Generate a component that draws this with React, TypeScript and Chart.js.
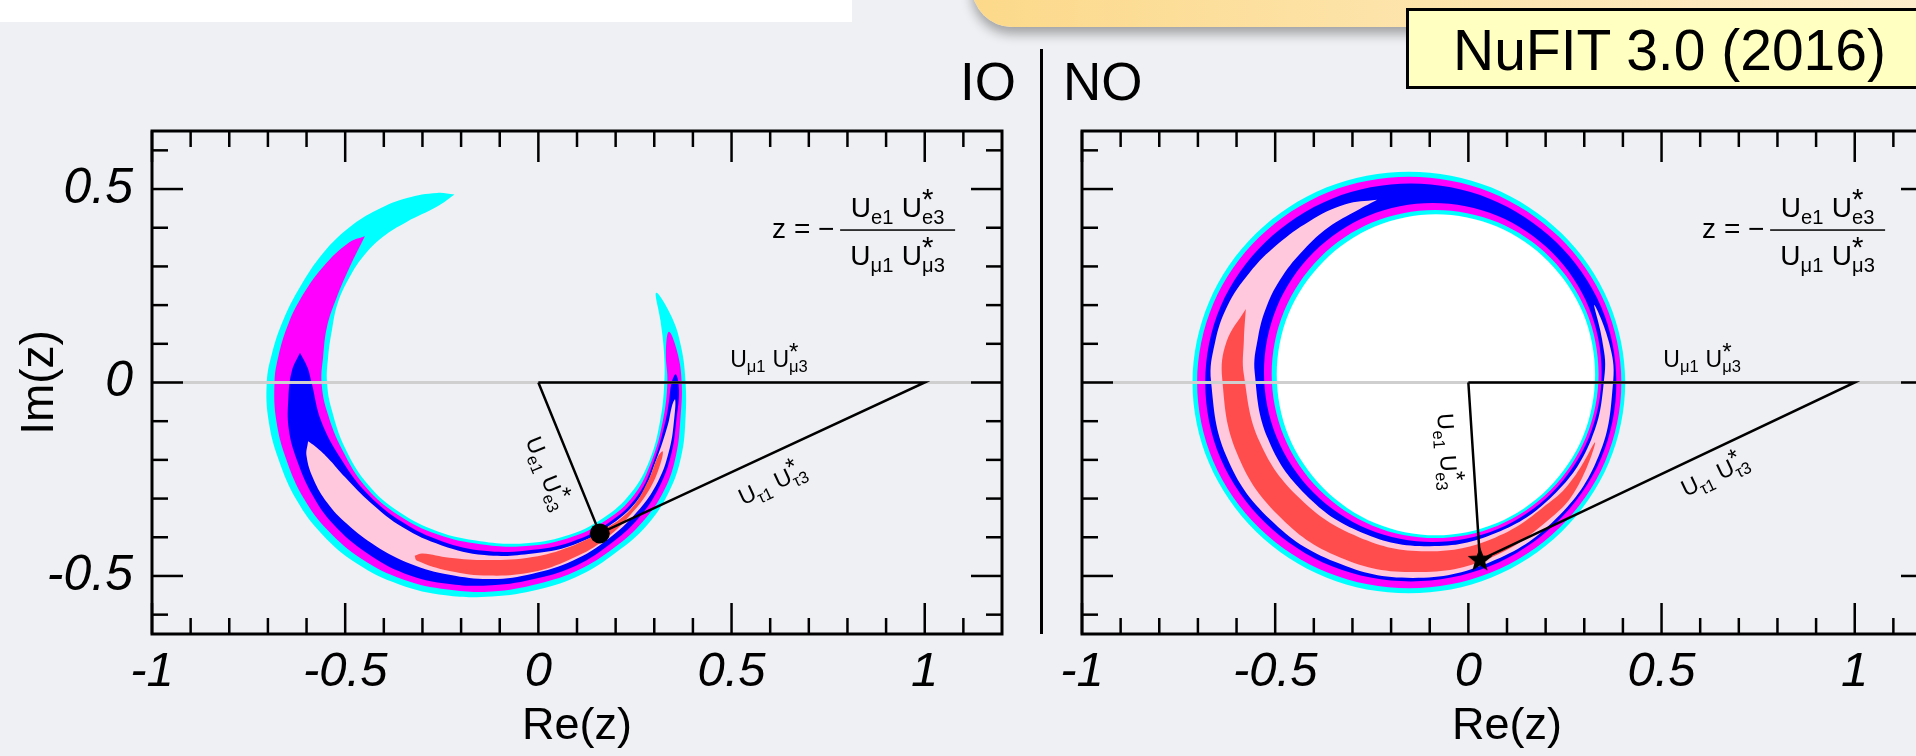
import React, { useEffect, useRef } from 'react';
import { Chart, registerables } from 'chart.js';

Chart.register(...registerables);

type P = [number, number];

const FONT = '"Liberation Sans", Arial, Helvetica, sans-serif';

// ---------- axes ----------
const X_RANGE: P = [-1, 1.2];
const Y_RANGE: P = [-0.65, 0.65];
const X_TICKS = [-1, -0.5, 0, 0.5, 1];
const X_TICK_LABELS = ['-1', '-0.5', '0', '0.5', '1'];
const Y_TICKS = [-0.5, 0, 0.5];
const Y_TICK_LABELS = ['-0.5', '0', '0.5'];
const X_MINOR = [-0.9, -0.8, -0.7, -0.6, -0.4, -0.3, -0.2, -0.1, 0.1, 0.2, 0.3, 0.4, 0.6, 0.7, 0.8, 0.9, 1.1];
const Y_MINOR = [-0.6, -0.4, -0.3, -0.2, -0.1, 0.1, 0.2, 0.3, 0.4, 0.6];

// ---------- triangle / reference lines ----------
const ZERO_LINE: P[] = [[-1, 0], [1.2, 0]];
const IO_BEST: P = [0.159, -0.39];
const NO_BEST: P = [0.03, -0.459];

// ---------- IO (inverted ordering) allowed regions ----------
const IO_CYAN: P[] = [
  [-0.217, 0.486], [-0.262, 0.49], [-0.34, 0.477], [-0.418, 0.446], [-0.488, 0.402], [-0.557, 0.335],
  [-0.617, 0.247], [-0.66, 0.162], [-0.689, 0.077], [-0.703, 0.0], [-0.698, -0.1], [-0.672, -0.2],
  [-0.625, -0.305], [-0.56, -0.392], [-0.47, -0.468], [-0.36, -0.522], [-0.24, -0.55], [-0.12, -0.553],
  [0.0, -0.535], [0.11, -0.497], [0.2, -0.44], [0.28, -0.37], [0.337, -0.285], [0.37, -0.19],
  [0.381, -0.09], [0.381, 0.0], [0.37, 0.09], [0.345, 0.17], [0.305, 0.232],
  [0.316, 0.16], [0.325, 0.08], [0.326, 0.0], [0.315, -0.1], [0.288, -0.2], [0.24, -0.285],
  [0.168, -0.35], [0.07, -0.397], [-0.04, -0.416], [-0.15, -0.41], [-0.26, -0.385], [-0.36, -0.335],
  [-0.44, -0.265], [-0.5, -0.17], [-0.535, -0.07], [-0.547, 0.0], [-0.544, 0.067], [-0.534, 0.137],
  [-0.519, 0.206], [-0.488, 0.273], [-0.454, 0.325], [-0.403, 0.376], [-0.341, 0.415], [-0.263, 0.454],
  [-0.217, 0.486],
];
const IO_MAGENTA: P[] = [
  [-0.449, 0.378], [-0.49, 0.362], [-0.557, 0.299], [-0.617, 0.214], [-0.65, 0.144], [-0.673, 0.067],
  [-0.683, 0.0], [-0.678, -0.1], [-0.652, -0.2], [-0.607, -0.3], [-0.545, -0.382], [-0.457, -0.456],
  [-0.35, -0.509], [-0.235, -0.535], [-0.12, -0.54], [0.0, -0.52], [0.105, -0.484], [0.195, -0.428],
  [0.27, -0.36], [0.325, -0.28], [0.356, -0.19], [0.368, -0.09], [0.371, 0.0], [0.36, 0.077], [0.338, 0.131],
  [0.33, 0.077], [0.334, 0.0], [0.322, -0.1], [0.294, -0.2], [0.248, -0.29], [0.175, -0.356],
  [0.075, -0.403], [-0.04, -0.423], [-0.15, -0.418], [-0.26, -0.393], [-0.362, -0.343], [-0.445, -0.272],
  [-0.507, -0.175], [-0.547, -0.075], [-0.561, 0.0], [-0.557, 0.067], [-0.547, 0.144], [-0.521, 0.222],
  [-0.488, 0.299], [-0.449, 0.378],
];
const IO_BLUE: P[] = [
  [-0.617, 0.077], [-0.638, 0.03], [-0.647, -0.04], [-0.646, -0.12], [-0.625, -0.2], [-0.585, -0.29],
  [-0.53, -0.367], [-0.445, -0.44], [-0.345, -0.494], [-0.235, -0.52], [-0.12, -0.524], [0.0, -0.505],
  [0.1, -0.472], [0.185, -0.418], [0.258, -0.352], [0.312, -0.272], [0.344, -0.185], [0.358, -0.09],
  [0.364, -0.02], [0.356, 0.021],
  [0.345, 0.0], [0.338, -0.05], [0.329, -0.1], [0.3, -0.2], [0.257, -0.292], [0.183, -0.362],
  [0.085, -0.412], [-0.03, -0.434], [-0.14, -0.435], [-0.25, -0.41], [-0.35, -0.362], [-0.44, -0.29],
  [-0.509, -0.2], [-0.562, -0.1], [-0.587, 0.0], [-0.598, 0.04], [-0.617, 0.077],
];
const IO_PINK: P[] = [
  [-0.596, -0.152], [-0.6, -0.19], [-0.582, -0.25], [-0.547, -0.31], [-0.495, -0.366], [-0.42, -0.423],
  [-0.33, -0.469], [-0.23, -0.497], [-0.12, -0.508], [-0.015, -0.494], [0.09, -0.46], [0.18, -0.405],
  [0.255, -0.335], [0.31, -0.255], [0.34, -0.17], [0.352, -0.09], [0.354, -0.044],
  [0.346, -0.06], [0.335, -0.11], [0.305, -0.2], [0.263, -0.295], [0.19, -0.366], [0.09, -0.42],
  [-0.025, -0.443], [-0.14, -0.446], [-0.25, -0.421], [-0.35, -0.375], [-0.435, -0.31], [-0.5, -0.245],
  [-0.545, -0.195], [-0.578, -0.165], [-0.596, -0.152],
];
const IO_RED: P[] = [
  [-0.32, -0.448], [-0.315, -0.46], [-0.23, -0.487], [-0.127, -0.499], [-0.015, -0.49], [0.08, -0.458],
  [0.165, -0.411], [0.24, -0.34], [0.29, -0.272], [0.316, -0.21], [0.322, -0.178],
  [0.31, -0.19], [0.286, -0.25], [0.24, -0.326], [0.165, -0.383], [0.08, -0.425], [-0.015, -0.451],
  [-0.127, -0.459], [-0.23, -0.453], [-0.3, -0.442], [-0.32, -0.448],
];

// ---------- NO (normal ordering) allowed regions ----------
const NO_CYAN_OUTER: P[] = [
  [0.406, 0], [0.363, 0.209], [0.242, 0.385], [0.06, 0.504], [-0.154, 0.545], [-0.368, 0.504],
  [-0.55, 0.385], [-0.671, 0.209], [-0.714, 0], [-0.671, -0.209], [-0.55, -0.385], [-0.368, -0.504],
  [-0.154, -0.545], [0.06, -0.504], [0.242, -0.385], [0.363, -0.209], [0.406, 0],
];
const NO_MAGENTA_OUTER: P[] = [
  [0.396, 0], [0.354, 0.204], [0.235, 0.376], [0.057, 0.492], [-0.153, 0.532], [-0.363, 0.492],
  [-0.541, 0.376], [-0.66, 0.204], [-0.702, 0], [-0.66, -0.204], [-0.541, -0.376], [-0.363, -0.492],
  [-0.153, -0.532], [0.057, -0.492], [0.235, -0.376], [0.354, -0.204], [0.396, 0],
];
const NO_BLUE_OUTER: P[] = [
  [0.383, 0], [0.343, 0.197], [0.227, 0.363], [0.055, 0.475], [-0.149, 0.514], [-0.353, 0.475],
  [-0.525, 0.363], [-0.641, 0.197], [-0.681, 0], [-0.641, -0.197], [-0.525, -0.363], [-0.353, -0.475],
  [-0.149, -0.514], [0.055, -0.475], [0.227, -0.363], [0.343, -0.197], [0.383, 0],
];
const NO_BLUE_INNER: P[] = [
  [0.345, 0.026], [0.312, 0.194], [0.217, 0.336], [0.075, 0.431], [-0.092, 0.464], [-0.259, 0.431],
  [-0.401, 0.336], [-0.496, 0.194], [-0.529, 0.026], [-0.496, -0.142], [-0.401, -0.284], [-0.259, -0.379],
  [-0.092, -0.412], [0.075, -0.379], [0.217, -0.284], [0.312, -0.142], [0.345, 0.026],
];
const NO_MAGENTA_INNER: P[] = [
  [0.337, 0.022], [0.305, 0.184], [0.213, 0.322], [0.076, 0.414], [-0.086, 0.446], [-0.248, 0.414],
  [-0.385, 0.322], [-0.477, 0.184], [-0.509, 0.022], [-0.477, -0.14], [-0.385, -0.278], [-0.248, -0.37],
  [-0.086, -0.402], [0.076, -0.37], [0.213, -0.278], [0.305, -0.14], [0.337, 0.022],
];
const NO_CYAN_INNER: P[] = [
  [0.328, 0.02], [0.297, 0.179], [0.207, 0.313], [0.074, 0.403], [-0.084, 0.435], [-0.242, 0.403],
  [-0.375, 0.313], [-0.465, 0.179], [-0.496, 0.02], [-0.465, -0.139], [-0.375, -0.273], [-0.242, -0.363],
  [-0.084, -0.395], [0.074, -0.363], [0.207, -0.273], [0.297, -0.139], [0.328, 0.02],
];
const NO_PINK: P[] = [
  [-0.236, 0.472], [-0.32, 0.46], [-0.411, 0.417], [-0.494, 0.357], [-0.567, 0.283], [-0.624, 0.197],
  [-0.656, 0.102], [-0.666, 0.003], [-0.626, -0.191], [-0.513, -0.354], [-0.344, -0.464], [-0.144, -0.505],
  [0.057, -0.464], [0.226, -0.353], [0.338, -0.188], [0.375, 0.006], [0.364, 0.104], [0.326, 0.2],
  [0.346, 0.112], [0.353, 0.025], [0.318, -0.147], [0.219, -0.292], [0.071, -0.389], [-0.102, -0.423],
  [-0.275, -0.388], [-0.421, -0.29], [-0.519, -0.145], [-0.553, 0.026], [-0.545, 0.113], [-0.522, 0.197],
  [-0.481, 0.275], [-0.426, 0.343], [-0.362, 0.401], [-0.287, 0.445], [-0.236, 0.472],
];
const NO_RED: P[] = [
  [-0.576, 0.19], [-0.626, 0.105], [-0.637, 0.009], [-0.6, -0.18], [-0.494, -0.341], [-0.332, -0.452],
  [-0.136, -0.49], [0.059, -0.452], [0.224, -0.341], [0.286, -0.263], [0.328, -0.155],
  [0.279, -0.237], [0.22, -0.302], [0.069, -0.401], [-0.109, -0.436], [-0.285, -0.399], [-0.436, -0.3],
  [-0.54, -0.154], [-0.581, 0.02], [-0.581, 0.11], [-0.576, 0.19],
];

const COLORS: Record<string, string> = {
  cyan: '#00ffff',
  magenta: '#ff00ff',
  blue: '#0000ff',
  pink: '#ffc8dc',
  red: '#ff4d4d',
  white: '#ffffff',
};

// [points, colour, is a closed smooth ring boundary]
type Layer = [P[], string, boolean];

interface PanelDef {
  layers: Layer[];
  best: P;
  marker: 'dot' | 'star';
  yLabels: boolean;
  muT: number;
  eT: number;
  eOff: number;
  tauT: number;
  tauOff: number;
}

const IO_PANEL: PanelDef = {
  layers: [
    [IO_CYAN, 'cyan', false], [IO_MAGENTA, 'magenta', false], [IO_BLUE, 'blue', false],
    [IO_PINK, 'pink', false], [IO_RED, 'red', false],
  ],
  best: IO_BEST,
  marker: 'dot',
  yLabels: true,
  muT: 0.597,
  eT: 0.535,
  eOff: -34,
  tauT: 0.495,
  tauOff: -35,
};

const NO_PANEL: PanelDef = {
  layers: [
    [NO_CYAN_OUTER, 'cyan', true], [NO_MAGENTA_OUTER, 'magenta', true], [NO_BLUE_OUTER, 'blue', true],
    [NO_BLUE_INNER, 'magenta', true], [NO_MAGENTA_INNER, 'cyan', true], [NO_CYAN_INNER, 'white', true],
    [NO_PINK, 'pink', false], [NO_RED, 'red', false],
  ],
  best: NO_BEST,
  marker: 'star',
  yLabels: false,
  muT: 0.605,
  eT: 0.38,
  eOff: -33,
  tauT: 0.6,
  tauOff: -31,
};

function makeStar(r: number): HTMLCanvasElement {
  const c = document.createElement('canvas');
  const s = Math.ceil(r * 2 + 2);
  c.width = s;
  c.height = s;
  const g = c.getContext('2d')!;
  g.translate(s / 2, s / 2);
  g.beginPath();
  for (let i = 0; i < 10; i++) {
    const rr = i % 2 === 0 ? r : r * 0.42;
    const a = -Math.PI / 2 + (i * Math.PI) / 5;
    g.lineTo(rr * Math.cos(a), rr * Math.sin(a));
  }
  g.closePath();
  g.fillStyle = '#000';
  g.fill();
  return c;
}

function drawProduct(ctx: CanvasRenderingContext2D, x: number, y: number, ang: number, F: number, s1: string, s2: string) {
  const fs = F * 0.72;
  const fMain = `${F}px ${FONT}`;
  const fSub = `${fs}px ${FONT}`;
  const fStar = `${F * 1.05}px ${FONT}`;
  ctx.save();
  ctx.translate(x, y);
  ctx.rotate(ang);
  ctx.fillStyle = '#000';
  ctx.textAlign = 'left';
  ctx.textBaseline = 'alphabetic';
  ctx.font = fMain;
  const wU = ctx.measureText('U').width;
  ctx.font = fSub;
  const w1 = ctx.measureText(s1).width;
  const w2 = ctx.measureText(s2).width;
  ctx.font = fStar;
  const wS = ctx.measureText('*').width;
  const gap = F * 0.3;
  const total = wU + w1 + gap + wU + Math.max(w2, wS);
  let cx = -total / 2;
  ctx.font = fMain;
  ctx.fillText('U', cx, 0);
  cx += wU;
  ctx.font = fSub;
  ctx.fillText(s1, cx, F * 0.25);
  cx += w1 + gap;
  ctx.font = fMain;
  ctx.fillText('U', cx, 0);
  cx += wU;
  ctx.font = fStar;
  ctx.fillText('*', cx, -F * 0.3);
  ctx.font = fSub;
  ctx.fillText(s2, cx, F * 0.25);
  ctx.restore();
}

function overlay(panel: PanelDef) {
  return {
    id: 'overlay',
    afterDatasetsDraw(chart: any) {
      const ctx: CanvasRenderingContext2D = chart.ctx;
      const a = chart.chartArea;
      const sx = chart.scales.x;
      const sy = chart.scales.y;
      const px = (v: number) => sx.getPixelForValue(v);
      const py = (v: number) => sy.getPixelForValue(v);
      ctx.save();
      ctx.strokeStyle = '#000';
      ctx.lineCap = 'butt';
      const seg = (x1: number, y1: number, x2: number, y2: number) => {
        ctx.beginPath();
        ctx.moveTo(x1, y1);
        ctx.lineTo(x2, y2);
        ctx.stroke();
      };
      ctx.lineWidth = 2.5;
      const xt = (v: number, len: number) => {
        const X = px(v);
        seg(X, a.bottom, X, a.bottom - len);
        seg(X, a.top, X, a.top + len);
      };
      const yt = (v: number, len: number) => {
        const Y = py(v);
        seg(a.left, Y, a.left + len, Y);
        seg(a.right, Y, a.right - len, Y);
      };
      X_TICKS.forEach((v) => xt(v, 31));
      X_MINOR.forEach((v) => xt(v, 16));
      Y_TICKS.forEach((v) => yt(v, 31));
      Y_MINOR.forEach((v) => yt(v, 16));
      ctx.lineWidth = 3;
      ctx.strokeRect(a.left, a.top, a.right - a.left, a.bottom - a.top);

      // formula
      const fx = px(0.605);
      const fy = py(0.394);
      ctx.fillStyle = '#000';
      ctx.font = `28px ${FONT}`;
      ctx.textAlign = 'left';
      ctx.textBaseline = 'alphabetic';
      ctx.fillText('z = \u2212', fx, fy + 8);
      const barL = fx + 68;
      const barR = fx + 183;
      ctx.fillRect(barL, fy - 0.75, barR - barL, 1.5);
      drawProduct(ctx, (barL + barR) / 2, fy - 13, 0, 28, 'e1', 'e3');
      drawProduct(ctx, (barL + barR) / 2, fy + 35, 0, 28, '\u03bc1', '\u03bc3');

      // triangle side labels
      const o = { x: px(0), y: py(0) };
      const one = { x: px(1), y: py(0) };
      const b = { x: px(panel.best[0]), y: py(panel.best[1]) };
      const along = (p0: any, p1: any, t: number, off: number, s1: string, s2: string) => {
        const ang = Math.atan2(p1.y - p0.y, p1.x - p0.x);
        const bx = p0.x + t * (p1.x - p0.x);
        const by = p0.y + t * (p1.y - p0.y);
        drawProduct(ctx, bx + off * Math.sin(ang), by - off * Math.cos(ang), ang, 23, s1, s2);
      };
      along(o, one, panel.muT, 16, '\u03bc1', '\u03bc3');
      along(o, b, panel.eT, panel.eOff, 'e1', 'e3');
      along(b, one, panel.tauT, panel.tauOff, '\u03c41', '\u03c43');
      ctx.restore();
    },
  };
}

function buildConfig(panel: PanelDef, pad: { left: number; right: number }) {
  const region = (pts: P[], color: string, ring: boolean) => {
    // a closed ring re-visits its first two points so the smooth curve has no seam
    const path = ring ? [...pts, pts[1], pts[2]] : pts;
    return {
      data: path.map(([x, y]) => ({ x, y })),
      showLine: true,
      fill: 'shape',
      backgroundColor: COLORS[color],
      borderColor: 'rgba(0,0,0,0)',
      borderWidth: 0,
      pointRadius: 0,
      pointHoverRadius: 0,
      tension: ring ? 0.34 : 0.4,
    };
  };
  const paint: any[] = panel.layers.map(([pts, c, ring]) => region(pts, c, ring));
  paint.push({
    data: ZERO_LINE.map(([x, y]) => ({ x, y })),
    showLine: true,
    fill: false,
    borderColor: '#cfcfcf',
    borderWidth: 3,
    pointRadius: 0,
    tension: 0,
  });
  const tri: P[] = [[0, 0], [1, 0], panel.best, [0, 0]];
  paint.push({
    data: tri.map(([x, y]) => ({ x, y })),
    showLine: true,
    fill: false,
    borderColor: '#000',
    borderWidth: 2.5,
    borderJoinStyle: 'miter',
    pointRadius: 0,
    tension: 0,
  });
  paint.push({
    data: [{ x: panel.best[0], y: panel.best[1] }],
    showLine: false,
    pointRadius: 10,
    pointStyle: panel.marker === 'star' ? makeStar(13) : 'circle',
    pointBackgroundColor: '#000',
    pointBorderColor: '#000',
    pointBorderWidth: 0,
  });
  const datasets = paint.slice().reverse();

  return {
    type: 'scatter',
    data: { datasets },
    plugins: [overlay(panel)],
    options: {
      animation: false,
      responsive: false,
      maintainAspectRatio: false,
      events: [],
      layout: { padding: { top: 131, left: pad.left, right: pad.right, bottom: 0 } },
      plugins: { legend: { display: false }, tooltip: { enabled: false } },
      scales: {
        x: {
          type: 'linear',
          position: 'bottom',
          min: X_RANGE[0],
          max: X_RANGE[1],
          grid: { display: false, drawTicks: false },
          border: { display: false },
          afterBuildTicks: (s: any) => {
            s.ticks = X_TICKS.map((v) => ({ value: v }));
          },
          afterFit: (s: any) => {
            s.height = 122;
          },
          ticks: {
            callback: (_v: any, i: number) => X_TICK_LABELS[i],
            color: '#000',
            font: { family: FONT, size: 49, style: 'italic' },
            padding: 9,
            maxRotation: 0,
            autoSkip: false,
          },
          title: {
            display: true,
            text: 'Re(z)',
            color: '#000',
            font: { family: FONT, size: 45 },
            padding: { top: 0, bottom: 2 },
          },
        },
        y: {
          type: 'linear',
          position: 'left',
          display: panel.yLabels,
          min: Y_RANGE[0],
          max: Y_RANGE[1],
          grid: { display: false, drawTicks: false },
          border: { display: false },
          afterBuildTicks: (s: any) => {
            s.ticks = Y_TICKS.map((v) => ({ value: v }));
          },
          afterFit: (s: any) => {
            s.width = panel.yLabels ? 152 : 0;
          },
          ticks: {
            callback: (_v: any, i: number) => Y_TICK_LABELS[i],
            color: '#000',
            font: { family: FONT, size: 50, style: 'italic' },
            padding: 19,
            autoSkip: false,
          },
          title: {
            display: panel.yLabels,
            text: 'Im(z)',
            color: '#000',
            font: { family: FONT, size: 46 },
            padding: { top: 13, bottom: 0 },
          },
        },
      },
    },
  };
}

function PanelChart(props: { panel: PanelDef; left: number; width: number; pad: { left: number; right: number } }) {
  const ref = useRef<HTMLCanvasElement>(null);
  useEffect(() => {
    const chart = new Chart(ref.current as HTMLCanvasElement, buildConfig(props.panel, props.pad) as any);
    return () => chart.destroy();
  }, []);
  return (
    <canvas
      ref={ref}
      width={props.width}
      height={756}
      style={{ position: 'absolute', left: props.left, top: 0, width: props.width, height: 756 }}
    />
  );
}

export default function App() {
  return (
    <div
      style={{
        position: 'fixed',
        left: 0,
        top: 0,
        width: 1916,
        height: 756,
        overflow: 'hidden',
        background: '#eff0f3',
        fontFamily: FONT,
      }}
    >
      <div style={{ position: 'absolute', left: 0, top: 0, width: 852, height: 22, background: '#ffffff' }} />
      <div
        style={{
          position: 'absolute',
          left: 972,
          top: -60,
          width: 1000,
          height: 87,
          borderBottomLeftRadius: 40,
          background: 'linear-gradient(90deg, #fcd98a 0%, #fde3a8 40%, #fdeed0 100%)',
          boxShadow: '0 7px 12px rgba(0,0,0,0.33)',
        }}
      />
      <PanelChart panel={IO_PANEL} left={0} width={1040} pad={{ left: 0, right: 38 }} />
      <PanelChart panel={NO_PANEL} left={1045} width={900} pad={{ left: 37, right: 13 }} />
      <div style={{ position: 'absolute', left: 1040, top: 49, width: 2.5, height: 585, background: '#000' }} />
      <div style={{ position: 'absolute', left: 960, top: 55, fontSize: 53, lineHeight: '53px', color: '#000' }}>IO</div>
      <div style={{ position: 'absolute', left: 1063, top: 55, fontSize: 53, lineHeight: '53px', color: '#000' }}>NO</div>
      <div
        style={{
          position: 'absolute',
          left: 1406,
          top: 8,
          width: 600,
          height: 75,
          background: '#ffffc2',
          border: '3px solid #000',
        }}
      />
      <div style={{ position: 'absolute', left: 1453, top: 22, fontSize: 57, lineHeight: '57px', color: '#000', whiteSpace: 'nowrap' }}>
        NuFIT 3.0 (2016)
      </div>
    </div>
  );
}
